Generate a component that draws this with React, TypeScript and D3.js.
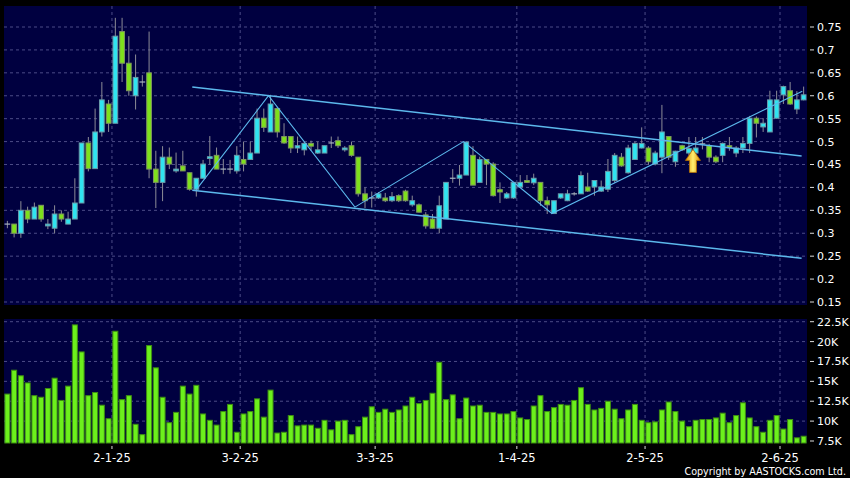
import React from 'react';
import * as d3 from 'd3';

// ---- data (index = trading day, 0..118) ----
const open = [
  0.32, 0.32, 0.30, 0.35, 0.331, 0.361, 0.316, 0.311, 0.342, 0.32,
  0.331, 0.366, 0.497, 0.441, 0.521, 0.582, 0.54, 0.74, 0.671, 0.60,
  0.63, 0.65, 0.44, 0.411, 0.466, 0.436, 0.447, 0.432, 0.396, 0.42,
  0.463, 0.47, 0.44, 0.44, 0.436, 0.461, 0.461, 0.475, 0.551, 0.521,
  0.572, 0.511, 0.511, 0.486, 0.482, 0.496, 0.475, 0.475, 0.497, 0.502,
  0.482, 0.491, 0.466, 0.386, 0.377, 0.377, 0.377, 0.371, 0.382, 0.392,
  0.362, 0.362, 0.34, 0.331, 0.311, 0.331, 0.42, 0.42, 0.427, 0.47,
  0.411, 0.461, 0.451, 0.395, 0.377, 0.377, 0.401, 0.415, 0.41, 0.411,
  0.371, 0.343, 0.377, 0.371, 0.386, 0.386, 0.401, 0.401, 0.392, 0.396,
  0.415, 0.466, 0.432, 0.461, 0.486, 0.486, 0.451, 0.466, 0.511, 0.456,
  0.491, 0.475, 0.475, 0.495, 0.491, 0.466, 0.47, 0.491, 0.475, 0.486,
  0.496, 0.551, 0.532, 0.521, 0.551, 0.602, 0.611, 0.571, 0.591,
];
const high = [
  0.327, 0.32, 0.37, 0.358, 0.367, 0.361, 0.331, 0.361, 0.35, 0.347,
  0.42, 0.497, 0.51, 0.572, 0.63, 0.591, 0.77, 0.77, 0.73, 0.69,
  0.645, 0.74, 0.48, 0.49, 0.487, 0.476, 0.48, 0.432, 0.42, 0.46,
  0.512, 0.487, 0.462, 0.46, 0.49, 0.50, 0.50, 0.572, 0.572, 0.602,
  0.575, 0.54, 0.511, 0.511, 0.50, 0.502, 0.50, 0.491, 0.511, 0.511,
  0.49, 0.50, 0.466, 0.40, 0.391, 0.39, 0.388, 0.39, 0.385, 0.395,
  0.382, 0.365, 0.346, 0.342, 0.382, 0.411, 0.44, 0.449, 0.50, 0.49,
  0.467, 0.461, 0.455, 0.411, 0.39, 0.412, 0.427, 0.427, 0.43, 0.411,
  0.38, 0.371, 0.386, 0.395, 0.39, 0.435, 0.432, 0.415, 0.415, 0.462,
  0.475, 0.475, 0.493, 0.50, 0.531, 0.49, 0.48, 0.58, 0.511, 0.48,
  0.493, 0.51, 0.51, 0.51, 0.495, 0.47, 0.498, 0.51, 0.49, 0.51,
  0.556, 0.555, 0.551, 0.611, 0.611, 0.622, 0.63, 0.61, 0.62,
];
const low = [
  0.311, 0.291, 0.29, 0.322, 0.331, 0.325, 0.309, 0.30, 0.325, 0.32,
  0.331, 0.366, 0.435, 0.441, 0.511, 0.521, 0.54, 0.63, 0.60, 0.57,
  0.62, 0.42, 0.355, 0.37, 0.44, 0.432, 0.436, 0.393, 0.38, 0.42,
  0.45, 0.44, 0.429, 0.43, 0.43, 0.435, 0.46, 0.475, 0.521, 0.521,
  0.509, 0.495, 0.475, 0.475, 0.47, 0.48, 0.473, 0.475, 0.486, 0.486,
  0.478, 0.467, 0.38, 0.355, 0.356, 0.375, 0.368, 0.368, 0.368, 0.369,
  0.358, 0.345, 0.31, 0.31, 0.30, 0.331, 0.41, 0.404, 0.427, 0.405,
  0.41, 0.405, 0.38, 0.366, 0.375, 0.375, 0.40, 0.41, 0.405, 0.36,
  0.342, 0.343, 0.375, 0.37, 0.382, 0.386, 0.39, 0.382, 0.39, 0.39,
  0.41, 0.445, 0.43, 0.46, 0.485, 0.45, 0.448, 0.431, 0.46, 0.445,
  0.48, 0.47, 0.475, 0.483, 0.455, 0.453, 0.455, 0.48, 0.466, 0.475,
  0.475, 0.509, 0.521, 0.521, 0.55, 0.582, 0.58, 0.56, 0.59,
];
const close = [
  0.32, 0.30, 0.35, 0.331, 0.357, 0.331, 0.32, 0.342, 0.331, 0.331,
  0.366, 0.497, 0.441, 0.521, 0.591, 0.54, 0.73, 0.671, 0.611, 0.64,
  0.63, 0.44, 0.411, 0.466, 0.451, 0.44, 0.436, 0.396, 0.42, 0.451,
  0.467, 0.44, 0.44, 0.44, 0.47, 0.451, 0.475, 0.551, 0.531, 0.582,
  0.521, 0.497, 0.486, 0.491, 0.496, 0.49, 0.482, 0.491, 0.497, 0.491,
  0.486, 0.47, 0.386, 0.371, 0.377, 0.386, 0.371, 0.38, 0.371, 0.371,
  0.371, 0.346, 0.316, 0.311, 0.36, 0.411, 0.42, 0.427, 0.499, 0.405,
  0.461, 0.451, 0.382, 0.39, 0.386, 0.411, 0.411, 0.411, 0.42, 0.371,
  0.362, 0.371, 0.386, 0.386, 0.386, 0.426, 0.392, 0.415, 0.401, 0.435,
  0.47, 0.447, 0.486, 0.496, 0.496, 0.456, 0.475, 0.521, 0.466, 0.479,
  0.482, 0.485, 0.486, 0.495, 0.466, 0.456, 0.496, 0.487, 0.486, 0.496,
  0.551, 0.54, 0.54, 0.591, 0.591, 0.62, 0.582, 0.591, 0.602,
];
// volume in thousands
const volumeK = [
  13.4, 16.4, 15.7, 14.8, 13.2, 13.0, 14.1, 15.4, 12.6, 14.4,
  22.1, 18.7, 13.2, 13.6, 12.0, 10.3, 21.3, 12.7, 13.2, 9.6,
  8.3, 19.5, 16.7, 13.0, 9.8, 11.1, 14.4, 13.4, 14.5, 10.9,
  10.1, 9.5, 11.2, 12.1, 8.6, 10.9, 11.2, 12.8, 10.5, 13.9,
  8.5, 8.6, 10.7, 9.4, 9.5, 9.5, 9.1, 10.1, 8.9, 10.0,
  10.1, 8.3, 9.3, 10.5, 11.8, 11.1, 11.5, 11.1, 11.4, 11.9,
  13.0, 12.2, 12.6, 13.5, 17.4, 12.7, 13.3, 10.3, 12.9, 11.9,
  12.0, 11.1, 11.1, 10.9, 10.9, 11.2, 10.4, 10.2, 11.9, 13.2,
  11.2, 11.7, 12.1, 12.0, 12.6, 14.2, 12.1, 11.4, 11.6, 12.5,
  11.5, 10.3, 11.4, 12.1, 10.1, 9.8, 9.9, 11.4, 12.4, 11.2,
  10.0, 9.3, 10.1, 10.2, 10.2, 10.4, 11.0, 9.8, 10.7, 12.3,
  10.4, 9.3, 8.6, 10.1, 10.7, 9.0, 10.2, 7.9, 8.1,
];
const priceTicks = [0.15, 0.2, 0.25, 0.3, 0.35, 0.4, 0.45, 0.5, 0.55, 0.6, 0.65, 0.7, 0.75];
const volumeTicks = [7.5, 10, 12.5, 15, 17.5, 20, 22.5];
const volumeTickLabels = ['7.5K', '10K', '12.5K', '15K', '17.5K', '20K', '22.5K'];
const dateLabels = ['2-1-25', '3-2-25', '3-3-25', '1-4-25', '2-5-25', '2-6-25'];
const dateIndex = [15.5, 34.5, 54.5, 75.5, 94.5, 114.5];
// drawn lines: [day index, price]
const channelUpper = [[27.4, 0.619], [117.7, 0.4685]];
const channelLower = [[27.4, 0.394], [117.7, 0.2453]];
const zigzag = [[28, 0.395], [38.7, 0.60], [51.5, 0.357], [67.6, 0.50], [80.7, 0.343], [117.8, 0.61]];
const arrowTip = [101.6, 0.483];

const FONT = "'DejaVu Sans', Verdana, sans-serif";

export default function App() {
  const W = 850, H = 478;
  const L = 4, R = 807;
  const pTop = 6, pBot = 305, vTop = 319, vBot = 443;
  const n = open.length;
  const x = d3.scaleLinear().domain([-0.5, n - 0.5]).range([L, R]);
  const y = d3.scaleLinear().domain([0.15, 0.75]).range([302, 27]);
  const yv = d3.scaleLinear().domain([7.5, 22.5]).range([441, 321.7]);
  const step = x(1) - x(0);
  const bodyW = step * 0.7;
  const volW = step - 1.75;
  const line = d3.line<number[]>().x((d) => x(d[0])).y((d) => y(d[1]));

  const gridColor = '#4b4b86';
  const lineColor = '#5cb8ec';
  const tx = x(arrowTip[0]), ty = y(arrowTip[1]);
  const arrowPath = `M${tx},${ty} L${tx + 7.5},${ty + 11} L${tx + 3.5},${ty + 11} L${tx + 3.5},${ty + 23} L${tx - 3.5},${ty + 23} L${tx - 3.5},${ty + 11} L${tx - 7.5},${ty + 11} Z`;

  return (
    <div style={{ position: 'fixed', left: 0, top: 0, width: W, height: H, background: '#000' }}>
      <svg width={W} height={H} style={{ display: 'block' }}>
        <defs>
          <linearGradient id="arrowGrad" x1="0" x2="1" y1="0" y2="0">
            <stop offset="0" stopColor="#e08a00" />
            <stop offset="0.5" stopColor="#fff070" />
            <stop offset="1" stopColor="#e08a00" />
          </linearGradient>
        </defs>
        <rect x={0} y={0} width={W} height={H} fill="#000" />
        {/* panels */}
        <rect x={L} y={pTop} width={R - L} height={pBot - pTop} fill="#000040" />
        <rect x={L} y={vTop} width={R - L} height={vBot - vTop} fill="#000040" />

        {/* price grid */}
        {priceTicks.map((p) => (
          <line key={'pg' + p} x1={L} x2={R} y1={y(p)} y2={y(p)} stroke={gridColor} strokeDasharray="3,3" strokeWidth={1} />
        ))}
        {dateIndex.map((d) => (
          <line key={'vg' + d} x1={x(d)} x2={x(d)} y1={pTop} y2={pBot} stroke={gridColor} strokeDasharray="3,3" strokeWidth={1} />
        ))}
        {/* volume grid */}
        {volumeTicks.map((v) => (
          <line key={'vgh' + v} x1={L} x2={R} y1={yv(v)} y2={yv(v)} stroke={gridColor} strokeDasharray="3,3" strokeWidth={1} />
        ))}
        {dateIndex.map((d) => (
          <line key={'vgv' + d} x1={x(d)} x2={x(d)} y1={vTop} y2={vBot} stroke={gridColor} strokeDasharray="3,3" strokeWidth={1} />
        ))}

        {/* candles */}
        {open.map((o, i) => {
          const c = close[i];
          const cx = x(i);
          const up = c >= o;
          const doji = Math.abs(c - o) < 0.0015;
          const top = y(Math.max(o, c));
          const bot = y(Math.min(o, c));
          return (
            <g key={'c' + i}>
              <line x1={cx} x2={cx} y1={y(high[i])} y2={y(low[i])} stroke="#8c8c96" strokeWidth={1} />
              {doji ? (
                <line x1={cx - bodyW / 2 - 0.5} x2={cx + bodyW / 2 + 0.5} y1={top} y2={top} stroke="#a8b4c0" strokeWidth={1.2} />
              ) : (
                <rect x={cx - bodyW / 2} y={top} width={bodyW} height={Math.max(bot - top, 1)}
                  fill={up ? '#30e4f0' : '#7ee01c'} stroke={up ? '#6a9aa8' : '#7e9460'} strokeWidth={1} />
              )}
            </g>
          );
        })}

        {/* trend lines */}
        <path d={line(channelUpper) || ''} fill="none" stroke={lineColor} strokeWidth={1.5} />
        <path d={line(channelLower) || ''} fill="none" stroke={lineColor} strokeWidth={1.5} />
        <path d={line(zigzag) || ''} fill="none" stroke={lineColor} strokeWidth={1.1} />

        {/* arrow marker */}
        <path d={arrowPath} fill="url(#arrowGrad)" stroke="#b87000" strokeWidth={0.8} />

        {/* volume bars */}
        {volumeK.map((v, i) => (
          <rect key={'v' + i} x={x(i) - volW / 2} y={yv(v)} width={volW} height={vBot - yv(v)}
            fill="#6cf01c" stroke="#3e8e12" strokeWidth={1} />
        ))}

        {/* right axis: price */}
        {priceTicks.map((p) => (
          <g key={'pt' + p}>
            <line x1={810} x2={814} y1={y(p)} y2={y(p)} stroke="#ddd" strokeWidth={1} />
            <text x={817} y={y(p)} dy="0.36em" fill="#fff" fontSize={11} fontFamily={FONT}>
              {String(+p.toFixed(2))}
            </text>
          </g>
        ))}
        {/* right axis: volume */}
        {volumeTicks.map((v, i) => (
          <g key={'vt' + v}>
            <line x1={810} x2={814} y1={yv(v)} y2={yv(v)} stroke="#ddd" strokeWidth={1} />
            <text x={817} y={yv(v)} dy="0.36em" fill="#fff" fontSize={11} fontFamily={FONT}>
              {volumeTickLabels[i]}
            </text>
          </g>
        ))}
        {/* date axis */}
        {dateIndex.map((d, i) => (
          <g key={'dt' + d}>
            <line x1={x(d)} x2={x(d)} y1={446} y2={449} stroke="#ddd" strokeWidth={1} />
            <text x={x(d)} y={462} textAnchor="middle" fill="#fff" fontSize={11.5} fontFamily={FONT}>
              {dateLabels[i]}
            </text>
          </g>
        ))}
        <text x={846} y={475} textAnchor="end" fill="#fff" fontSize={9.6} fontFamily={FONT}>
          Copyright by AASTOCKS.com Ltd.
        </text>
      </svg>
    </div>
  );
}
